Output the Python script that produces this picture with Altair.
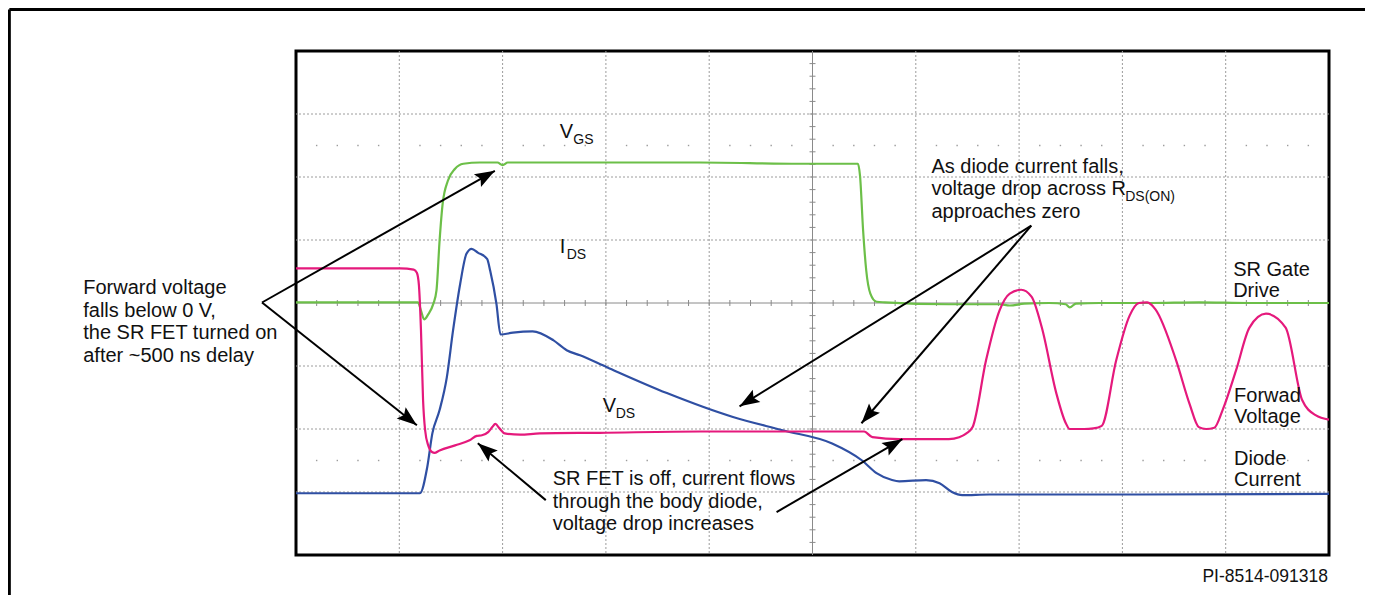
import math
import altair as alt
import pandas as pd

W, H = 1033, 504  # plot area (10 x 8 divisions)

# ---- traces: time in divisions, level in divisions ----
vgs_t = [0, 1.18, 1.21, 1.24, 1.28, 1.33, 1.36, 1.39, 1.42, 1.47, 1.54, 1.62, 1.78, 1.95, 2.00, 2.05,
         2.94, 3.91, 4.87, 5.44, 5.46, 5.49, 5.52, 5.56, 5.62, 5.70, 6.32, 6.81, 6.91, 7.05, 7.29,
         7.45, 7.49, 7.55, 7.78, 8.26, 8.74, 9.23, 10]
vgs_v = [4.01, 4.01, 3.88, 3.74, 3.82, 3.99, 4.20, 4.99, 5.58, 5.94, 6.13, 6.21, 6.23, 6.23, 6.19, 6.23,
         6.23, 6.23, 6.21, 6.21, 6.02, 5.15, 4.52, 4.15, 4.02, 4.01, 3.98, 3.98, 3.96, 3.99, 4.00,
         3.98, 3.93, 3.99, 4.00, 4.00, 4.01, 4.00, 4.00]

vds_t = [0, 1.01, 1.14, 1.17, 1.19, 1.21, 1.23, 1.25, 1.28, 1.32, 1.34, 1.39, 1.54, 1.68, 1.75, 1.80,
         1.86, 1.90, 1.93, 1.97, 2.02, 2.17, 2.36, 2.94, 3.91, 4.87, 5.50, 5.58, 5.84, 6.32, 6.42,
         6.49, 6.55, 6.68, 6.81, 6.91, 7.02, 7.12, 7.22, 7.36, 7.45, 7.49, 7.63, 7.72, 7.80, 7.94,
         8.07, 8.16, 8.24, 8.32, 8.52, 8.65, 8.74, 8.81, 8.89, 8.97, 9.10, 9.23, 9.39, 9.58, 9.74,
         9.87, 10]
vds_v = [4.55, 4.55, 4.53, 4.48, 4.28, 3.56, 2.46, 1.98, 1.74, 1.63, 1.62, 1.66, 1.74, 1.82, 1.89, 1.90,
         1.95, 2.03, 2.08, 2.01, 1.93, 1.91, 1.93, 1.94, 1.96, 1.96, 1.96, 1.87, 1.84, 1.84, 1.87,
         1.93, 2.03, 3.09, 3.88, 4.15, 4.21, 4.10, 3.61, 2.57, 2.10, 2.00, 2.00, 2.01, 2.05, 3.09,
         3.80, 4.00, 4.01, 3.90, 3.09, 2.40, 2.03, 2.00, 2.02, 2.30, 2.93, 3.61, 3.83, 3.61, 2.46,
         2.22, 2.15]

ids_t = [0, 1.20, 1.27, 1.32, 1.39, 1.46, 1.52, 1.59, 1.65, 1.70, 1.76, 1.85, 1.88, 1.94, 1.98, 2.10,
         2.29, 2.49, 2.62, 2.75, 3.01, 3.59, 4.23, 4.71, 5.19, 5.48, 5.62, 5.77, 5.84, 6.10, 6.23,
         6.35, 6.45, 6.71, 8.16, 10]
ids_v = [0.98, 0.98, 1.39, 1.93, 2.30, 2.82, 3.56, 4.31, 4.78, 4.86, 4.80, 4.70, 4.51, 3.99, 3.50, 3.53,
         3.55, 3.41, 3.25, 3.17, 2.98, 2.57, 2.19, 1.98, 1.77, 1.50, 1.30, 1.19, 1.17, 1.19, 1.14,
         1.00, 0.95, 0.96, 0.96, 0.97]

# ---- labels ----
label_text = ["Forward voltage", "falls below 0 V,", "the SR FET turned on", "after ~500 ns delay",
              "V", "I", "V",
              "As diode current falls,", "voltage drop across R", "approaches zero",
              "SR Gate", "Drive", "Forwad", "Voltage", "Diode", "Current",
              "SR FET is off, current flows", "through the body diode,", "voltage drop increases"]
label_t = [-2.06, -2.06, -2.06, -2.06,
           2.553, 2.553, 2.969,
           6.151, 6.151, 6.151,
           9.072, 9.072, 9.081, 9.081, 9.081, 9.081,
           2.485, 2.485, 2.485]
label_v = [4.143, 3.782, 3.421, 3.060,
           6.622, 4.800, 2.265,
           6.067, 5.711, 5.354,
           4.436, 4.103, 2.432, 2.099, 1.426, 1.101,
           1.109, 0.752, 0.396]

sub_text = ["GS", "DS", "DS", "DS(ON)"]
sub_t = [2.684, 2.621, 3.095, 8.027]
sub_v = [6.527, 4.705, 2.170, 5.624]

code_text = ["PI-8514-091318"]
code_t = [9.99]
code_v = [-0.428]

# ---- arrows (tail -> tip) ----
arrow_tail_t = [-0.329, -0.329, 7.118, 7.118, 2.418, 4.652]
arrow_tail_v = [4.008, 4.008, 5.228, 5.228, 0.871, 0.681]
arrow_tip_t = [1.925, 1.170, 4.294, 5.474, 1.760, 5.870]
arrow_tip_v = [6.099, 2.059, 2.360, 2.091, 1.774, 1.838]

xs = alt.Scale(domain=[0, 10], nice=False, zero=False)
ys = alt.Scale(domain=[0, 8], nice=False, zero=False)

def X(f):
    return alt.X(f, type="quantitative", scale=xs, axis=None)

def Y(f):
    return alt.Y(f, type="quantitative", scale=ys, axis=None)

# grid
gx = pd.DataFrame({"t": [1, 2, 3, 4, 6, 7, 8, 9]})
gy = pd.DataFrame({"v": [1, 2, 3, 5, 6, 7]})
grid_x = alt.Chart(gx).mark_rule(color="#9c9c9c", strokeWidth=1, strokeDash=[2, 2]).encode(x=X("t"))
grid_y = alt.Chart(gy).mark_rule(color="#9c9c9c", strokeWidth=1, strokeDash=[2, 2]).encode(y=Y("v"))
cx = alt.Chart(pd.DataFrame({"t": [5]})).mark_rule(color="#8a8a8a", strokeWidth=1).encode(x=X("t"))
cy = alt.Chart(pd.DataFrame({"v": [4]})).mark_rule(color="#8a8a8a", strokeWidth=1).encode(y=Y("v"))
tick_h = pd.DataFrame({"t": [k / 5 for k in range(1, 50)], "v": 4})
tick_v = pd.DataFrame({"v": [k / 5 for k in range(1, 40)], "t": 5})
ticks_h = alt.Chart(tick_h).mark_tick(orient="vertical", size=6, thickness=1, color="#8a8a8a", opacity=1).encode(x=X("t"), y=Y("v"))
ticks_v = alt.Chart(tick_v).mark_tick(orient="horizontal", size=6, thickness=1, color="#8a8a8a", opacity=1).encode(x=X("t"), y=Y("v"))
dots_rows = []
for k in range(1, 50):
    if k % 5:
        dots_rows.append({"t": k / 5, "v": 1.5})
        dots_rows.append({"t": k / 5, "v": 6.5})
dots = alt.Chart(pd.DataFrame(dots_rows)).mark_point(filled=True, shape="square", size=2, color="#9c9c9c", opacity=1).encode(x=X("t"), y=Y("v"))

def trace(ts, vs, color):
    df = pd.DataFrame({"t": ts, "v": vs, "i": range(len(ts))})
    return alt.Chart(df).mark_line(color=color, strokeWidth=2.2, interpolate="monotone").encode(
        x=X("t"), y=Y("v"), order=alt.Order("i:Q"))

g_line = trace(vgs_t, vgs_v, "#6cbf48")
p_line = trace(vds_t, vds_v, "#e5197c")
b_line = trace(ids_t, ids_v, "#2f4fa3")

# arrows
px_t, px_v = W / 10, H / 8
angles = []
for a, b, c, d in zip(arrow_tail_t, arrow_tail_v, arrow_tip_t, arrow_tip_v):
    dx = (c - a) * px_t
    dy = -(d - b) * px_v
    angles.append(math.degrees(math.atan2(dx, -dy)) % 360)
adf = pd.DataFrame({"t": arrow_tail_t, "v": arrow_tail_v, "t2": arrow_tip_t, "v2": arrow_tip_v, "ang": angles})
shafts = alt.Chart(adf).mark_rule(color="black", strokeWidth=2).encode(
    x=X("t"), y=Y("v"), x2="t2:Q", y2="v2:Q")
heads = alt.Chart(adf).mark_point(
    shape="M0,0 L-0.36,1 L0,0.82 L0.36,1 Z", filled=True, size=1600, color="black", opacity=1, strokeWidth=0
).encode(x=X("t2"), y=Y("v2"), angle=alt.Angle("ang:Q", scale=None))

FONT = "Liberation Sans"
labels = alt.Chart(pd.DataFrame({"t": label_t, "v": label_v, "s": label_text})).mark_text(
    align="left", baseline="alphabetic", font=FONT, fontSize=20, color="#111111").encode(
    x=X("t"), y=Y("v"), text="s:N")
subs = alt.Chart(pd.DataFrame({"t": sub_t, "v": sub_v, "s": sub_text})).mark_text(
    align="left", baseline="alphabetic", font=FONT, fontSize=14, color="#111111").encode(
    x=X("t"), y=Y("v"), text="s:N")
code = alt.Chart(pd.DataFrame({"t": code_t, "v": code_v, "s": code_text})).mark_text(
    align="right", baseline="alphabetic", font=FONT, fontSize=17.5, color="#111111").encode(
    x=X("t"), y=Y("v"), text="s:N")

# outer frame (top and left edges)
frame = pd.DataFrame({"t": [-2.775, -2.775], "v": [8.66, 8.66], "t2": [11.0, -2.775], "v2": [8.66, -1.2]})
frame_l = alt.Chart(frame).mark_rule(color="black", strokeWidth=3).encode(
    x=X("t"), y=Y("v"), x2="t2:Q", y2="v2:Q")

chart = alt.layer(
    grid_x, grid_y, cx, cy, ticks_h, ticks_v, dots,
    g_line, b_line, p_line,
    shafts, heads, labels, subs, code, frame_l,
).properties(
    width=W, height=H,
    padding={"left": 288, "top": 43, "right": 36, "bottom": 40},
    autosize=alt.AutoSizeParams(type="none"),
    background="white",
).configure_view(stroke="black", strokeWidth=3)

chart.save("out.html", embed_options={"renderer": "svg", "actions": False})
